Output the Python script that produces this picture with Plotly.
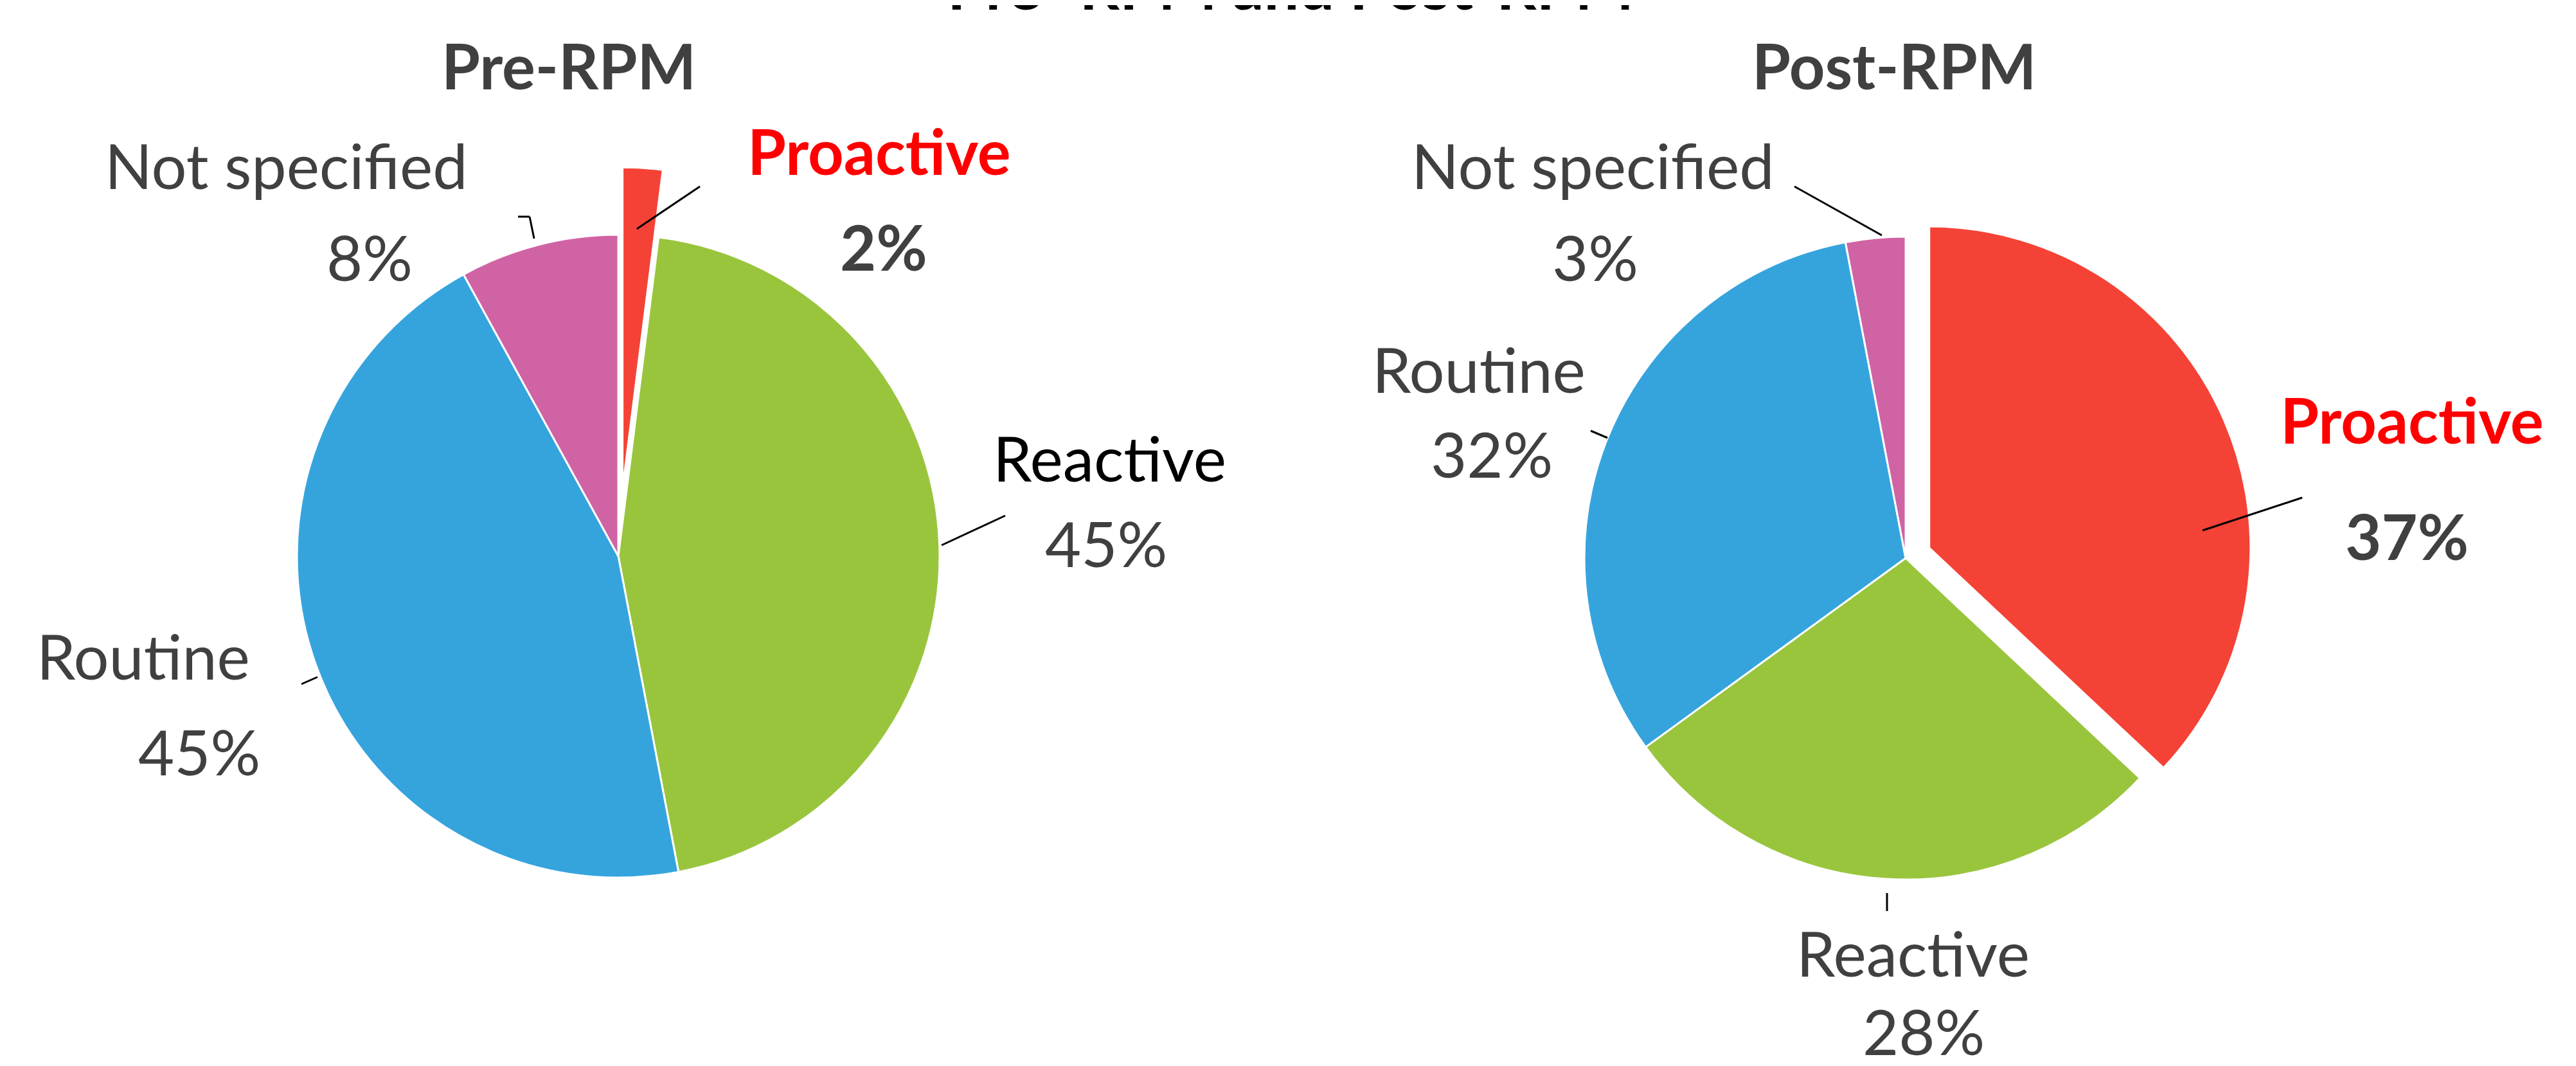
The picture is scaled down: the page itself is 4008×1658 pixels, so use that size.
import plotly.graph_objects as go

# ---------------- data ----------------
categories = ["Proactive", "Reactive", "Routine", "Not specified"]
pre_values = [2, 45, 45, 8]
post_values = [37, 28, 32, 3]
pre_pull = [0.21, 0, 0, 0]
post_pull = [0.08, 0, 0, 0]
slice_colors = ["#F44336", "#99C53D", "#35A4DD", "#D063A4"]

W, H = 4008, 1658
FONT = "Lato"
GRAY = "#404040"
FS = 97
DY = -13  # global vertical correction for text


def px(x):
    return x / W


def py(y):
    return 1 - y / H


fig = go.Figure()

fig.add_trace(go.Pie(
    labels=categories, values=pre_values, pull=pre_pull, sort=False,
    direction="clockwise", rotation=0, textinfo="none", hoverinfo="label+percent",
    marker=dict(colors=slice_colors, line=dict(color="white", width=3)),
    domain=dict(x=[px(349), px(1559)], y=[py(1462), py(252)]),
    showlegend=False,
))
fig.add_trace(go.Pie(
    labels=categories, values=post_values, pull=post_pull, sort=False,
    direction="clockwise", rotation=0, textinfo="none", hoverinfo="label+percent",
    marker=dict(colors=slice_colors, line=dict(color="white", width=3)),
    domain=dict(x=[px(2417), px(3497)], y=[py(1400), py(320)]),
    showlegend=False,
))

annotations = []


def add_text(text, x, y, color=GRAY, bold=False, size=FS):
    t = f"<b>{text}</b>" if bold else text
    annotations.append(dict(
        text=t, x=px(x), y=py(y + DY), xref="paper", yref="paper",
        xanchor="center", yanchor="middle", showarrow=False,
        font=dict(family=FONT, size=size, color=color),
    ))


def pct(v):
    return f"{v}%"


# Title (partially cut off at the top, as in the reference)
annotations.append(dict(
    text="<b>Pre- RPM and Post-RPM</b>", x=px(2000), y=1, xref="paper", yref="paper",
    xanchor="center", yanchor="bottom", yshift=-30, showarrow=False,
    font=dict(family=FONT, size=FS, color="#000000"),
))

# Subtitles
add_text("Pre-RPM", 877, 107, bold=True)
add_text("Post-RPM", 2939, 107, bold=True)

# Pre-RPM labels
pre_name_pos = {"Proactive": (1360, 240), "Reactive": (1718, 716),
                "Routine": (215, 1025), "Not specified": (437, 261)}
pre_pct_pos = {"Proactive": (1367, 389), "Reactive": (1713, 849),
               "Routine": (302, 1173), "Not specified": (567, 404)}
for cat, v in zip(categories, pre_values):
    if cat == "Proactive":
        add_text(cat, *pre_name_pos[cat], color="#FF0000", bold=True)
        add_text(pct(v), *pre_pct_pos[cat], bold=True)
    elif cat == "Reactive":
        add_text(cat, *pre_name_pos[cat], color="#000000")
        add_text(pct(v), *pre_pct_pos[cat])
    else:
        add_text(cat, *pre_name_pos[cat])
        add_text(pct(v), *pre_pct_pos[cat])

# Post-RPM labels
post_name_pos = {"Proactive": (3745, 657), "Reactive": (2968, 1486),
                 "Routine": (2293, 578), "Not specified": (2470, 261)}
post_pct_pos = {"Proactive": (3737, 838), "Reactive": (2985, 1608),
                "Routine": (2313, 711), "Not specified": (2474, 404)}
for cat, v in zip(categories, post_values):
    if cat == "Proactive":
        add_text(cat, *post_name_pos[cat], color="#FF0000", bold=True)
        add_text(pct(v), *post_pct_pos[cat], bold=True)
    else:
        add_text(cat, *post_name_pos[cat])
        add_text(pct(v), *post_pct_pos[cat])

# Leader lines (pixel positions)
leaders = [
    ((798, 329), (816, 329)), ((816, 329), (823, 363)),   # pre not specified
    ((983, 348), (1081, 282)),                             # pre proactive
    ((1457, 840), (1556, 794)),                            # pre reactive
    ((461, 1056), (486, 1045)),                            # pre routine
    ((2784, 282), (2920, 358)),                            # post not specified
    ((2467, 662), (2493, 673)),                            # post routine
    ((3419, 817), (3574, 766)),                            # post proactive
    ((2928, 1381), (2928, 1409)),                          # post reactive
]
shapes = []
for (x0, y0), (x1, y1) in leaders:
    shapes.append(dict(type="line", xref="paper", yref="paper",
                       x0=px(x0), y0=py(y0), x1=px(x1), y1=py(y1),
                       line=dict(color="#000000", width=3)))

fig.update_layout(
    width=W, height=H,
    margin=dict(l=0, r=0, t=0, b=0),
    paper_bgcolor="white", plot_bgcolor="white",
    annotations=annotations, shapes=shapes,
    font=dict(family=FONT),
)

fig.write_html("out.html")
